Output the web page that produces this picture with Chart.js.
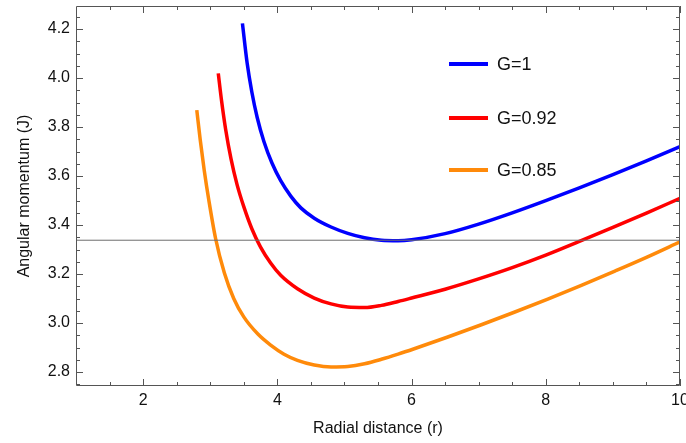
<!DOCTYPE html>
<html>
<head>
<meta charset="utf-8">
<script src="https://cdn.jsdelivr.net/npm/chart.js@4.4.1/dist/chart.umd.min.js"></script>
<style>
html,body{margin:0;padding:0;background:#fff;}
#wrap{width:686px;height:443px;position:relative;}
</style>
</head>
<body>
<div id="wrap"><canvas id="c" width="686" height="443"></canvas></div>
<script>
// ---- data ----
const seriesLabels = ["G=1", "G=0.92", "G=0.85"];

const blueR = [3.48, 3.55, 3.62, 3.70, 3.80, 3.92, 4.05, 4.2, 4.35, 4.55, 4.8, 5.05, 5.3, 5.55, 5.8, 6.0, 6.5, 7.0, 7.5, 8.0, 8.5, 9.0, 9.5, 10];
const blueJ = [4.223, 4.061, 3.943, 3.839, 3.741, 3.653, 3.581, 3.518, 3.47, 3.428, 3.392, 3.366, 3.348, 3.338, 3.336, 3.340, 3.365, 3.404, 3.45, 3.5, 3.552, 3.606, 3.662, 3.72];

const redR = [3.12, 3.17, 3.23, 3.31, 3.40, 3.50, 3.62, 3.75, 3.9, 4.05, 4.3, 4.55, 4.8, 5.05, 5.3, 5.55, 5.8, 6.0, 6.5, 7.0, 7.5, 8.0, 8.5, 9.0, 9.5, 10];
const redJ = [4.019, 3.905, 3.79, 3.67, 3.565, 3.475, 3.385, 3.31, 3.245, 3.195, 3.14, 3.102, 3.078, 3.065, 3.063, 3.072, 3.088, 3.102, 3.138, 3.18, 3.226, 3.277, 3.333, 3.39, 3.449, 3.509];

const orangeR = [2.80, 2.85, 2.91, 2.98, 3.08, 3.21, 3.35, 3.5, 3.71, 3.9, 4.1, 4.3, 4.55, 4.8, 5.05, 5.3, 5.55, 5.8, 6.04, 6.54, 7.04, 7.53, 8.03, 8.53, 9.03, 9.5, 10];
const orangeJ = [3.869, 3.75, 3.625, 3.50, 3.345, 3.205, 3.10, 3.025, 2.955, 2.91, 2.873, 2.848, 2.829, 2.821, 2.823, 2.834, 2.852, 2.873, 2.895, 2.943, 2.993, 3.044, 3.098, 3.154, 3.212, 3.268, 3.331];

const refLineJ = 3.338;

const xMajorTicks = [2, 4, 6, 8, 10];
const xMinorTicks = [1.5, 2.5, 3, 3.5, 4.5, 5, 5.5, 6.5, 7, 7.5, 8.5, 9, 9.5];
const yMajorTicks = [2.8, 3.0, 3.2, 3.4, 3.6, 3.8, 4.0, 4.2];
const yMinorTicks = [2.75, 2.85, 2.9, 2.95, 3.05, 3.1, 3.15, 3.25, 3.3, 3.35, 3.45, 3.5, 3.55, 3.65, 3.7, 3.75, 3.85, 3.9, 3.95, 4.05, 4.1, 4.15, 4.25];

const xRange = [1, 10];
const yRange = [2.743, 4.294];

// ---- build datasets ----
const toPts = (xs, ys) => xs.map((x, i) => ({x: x, y: ys[i]}));
const colors = ["#0000ff", "#ff0000", "#ff8a0a"];

const datasets = [
  {label: seriesLabels[0], data: toPts(blueR, blueJ), borderColor: colors[0]},
  {label: seriesLabels[1], data: toPts(redR, redJ), borderColor: colors[1]},
  {label: seriesLabels[2], data: toPts(orangeR, orangeJ), borderColor: colors[2]},
].map(d => Object.assign(d, {borderWidth: 3.5, pointRadius: 0, fill: false, cubicInterpolationMode: 'monotone'}));

datasets.unshift({
  label: 'ref', data: [{x: xRange[0], y: refLineJ}, {x: xRange[1], y: refLineJ}],
  borderColor: '#6e6e6e', borderWidth: 1, pointRadius: 0, fill: false
});

const FONT = "'Liberation Sans', Arial, sans-serif";

const framePlugin = {
  id: 'frame',
  afterDatasetsDraw(chart) {
    const ctx = chart.ctx, a = chart.chartArea;
    const xs = chart.scales.x, ys = chart.scales.y;
    ctx.save();
    ctx.strokeStyle = '#555';
    ctx.lineWidth = 1;
    ctx.beginPath();
    ctx.rect(Math.round(a.left) + 0.5, Math.round(a.top) + 0.5, Math.round(a.right - a.left) - 1, Math.round(a.bottom - a.top) - 1);
    ctx.stroke();
    const tick = (vals, len, axis) => {
      vals.forEach(v => {
        if (axis === 'x') {
          const p = Math.round(xs.getPixelForValue(v)) + 0.5;
          ctx.moveTo(p, a.bottom); ctx.lineTo(p, a.bottom - len);
          ctx.moveTo(p, a.top); ctx.lineTo(p, a.top + len);
        } else {
          const p = Math.round(ys.getPixelForValue(v)) + 0.5;
          ctx.moveTo(a.left, p); ctx.lineTo(a.left + len, p);
          ctx.moveTo(a.right, p); ctx.lineTo(a.right - len, p);
        }
      });
    };
    ctx.beginPath();
    tick(xMajorTicks, 7, 'x');
    tick(xMinorTicks, 4, 'x');
    tick(yMajorTicks, 7, 'y');
    tick(yMinorTicks, 4, 'y');
    ctx.stroke();

    // legend
    const legendX = 449, legendY = [64, 118, 170];
    ctx.font = '18px ' + FONT;
    ctx.textBaseline = 'middle';
    ctx.textAlign = 'left';
    [1, 2, 3].forEach((di, i) => {
      const ds = chart.data.datasets[di];
      ctx.strokeStyle = ds.borderColor;
      ctx.lineWidth = 4;
      ctx.beginPath();
      ctx.moveTo(legendX, legendY[i]); ctx.lineTo(legendX + 39, legendY[i]);
      ctx.stroke();
      ctx.fillStyle = '#111';
      ctx.fillText(ds.label, legendX + 48, legendY[i] + 1);
    });
    ctx.restore();
  }
};

new Chart(document.getElementById('c'), {
  type: 'line',
  data: {datasets: datasets},
  options: {
    responsive: false,
    animation: false,
    layout: {padding: {top: 6, right: 6, left: 0, bottom: 0}},
    plugins: {legend: {display: false}, tooltip: {enabled: false}},
    scales: {
      x: {
        type: 'linear', min: xRange[0], max: xRange[1],
        afterBuildTicks: s => { s.ticks = xMajorTicks.map(v => ({value: v})); },
        afterFit: s => { s.height = 57; s.paddingLeft = 0; s.paddingRight = 0; },
        grid: {display: false, drawTicks: false},
        border: {display: false},
        ticks: {font: {family: FONT, size: 16}, color: '#111', padding: 5, maxRotation: 0, autoSkip: false,
                callback: v => String(v)},
        title: {display: true, text: 'Radial distance (r)', font: {family: FONT, size: 16}, color: '#111',
                padding: {top: 0, bottom: 5}}
      },
      y: {
        type: 'linear', min: yRange[0], max: yRange[1],
        afterBuildTicks: s => { s.ticks = yMajorTicks.map(v => ({value: v})); },
        afterFit: s => { s.width = 76; s.paddingTop = 0; s.paddingBottom = 0; },
        grid: {display: false, drawTicks: false},
        border: {display: false},
        ticks: {font: {family: FONT, size: 16}, color: '#111', padding: 6, autoSkip: false,
                callback: v => v.toFixed(1)},
        title: {display: true, text: 'Angular momentum (J)', font: {family: FONT, size: 16}, color: '#111',
                padding: {top: 15, bottom: 0}}
      }
    }
  },
  plugins: [framePlugin]
});
</script>
</body>
</html>
